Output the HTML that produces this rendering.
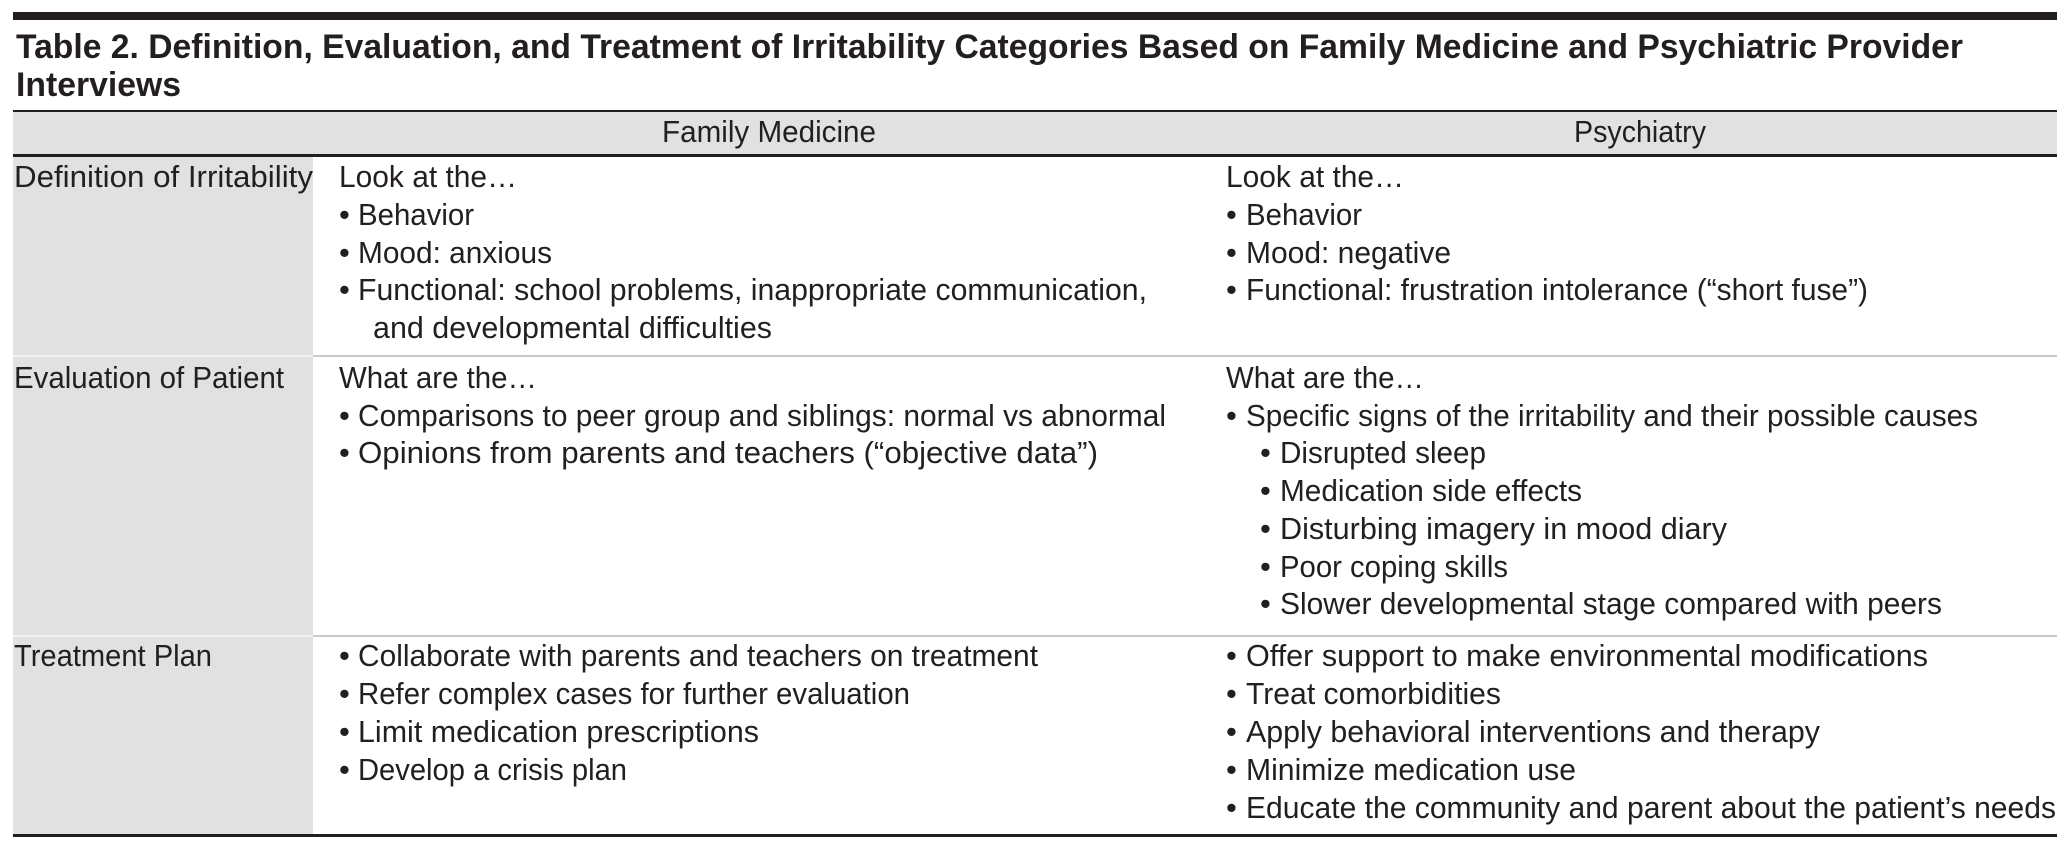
<!DOCTYPE html>
<html><head><meta charset="utf-8"><style>
html,body{margin:0;padding:0;background:#fff;}
svg{display:block;}
text{font-family:"Liberation Sans Narrow","Liberation Sans",sans-serif;fill:#231f20;font-size:31px;}
.t{font-weight:bold;font-size:34px;}
</style></head><body>
<svg width="2069" height="856" viewBox="0 0 2069 856" xmlns="http://www.w3.org/2000/svg">
<rect x="13" y="12" width="2044" height="8" fill="#231f20"/>
<text class="t" x="16" y="58" textLength="1947" lengthAdjust="spacingAndGlyphs">Table 2. Definition, Evaluation, and Treatment of Irritability Categories Based on Family Medicine and Psychiatric Provider</text>
<text class="t" x="16" y="96" textLength="165" lengthAdjust="spacingAndGlyphs">Interviews</text>
<rect x="13" y="111" width="2044" height="44" fill="#e1e1e1"/>
<rect x="13" y="157" width="300" height="678" fill="#e1e1e1"/>
<rect x="13" y="110" width="2044" height="2" fill="#231f20"/>
<rect x="13" y="154" width="2044" height="3" fill="#231f20"/>
<rect x="313" y="355" width="1744" height="2" fill="#c8c8c8"/>
<rect x="313" y="635" width="1744" height="2" fill="#c8c8c8"/>
<rect x="13" y="355" width="300" height="2" fill="#f2f2f2"/>
<rect x="13" y="635" width="300" height="2" fill="#f2f2f2"/>
<rect x="13" y="834" width="2044" height="3" fill="#231f20"/>
<text x="662" y="142" textLength="214" lengthAdjust="spacingAndGlyphs">Family Medicine</text>
<text x="1574" y="142" textLength="132" lengthAdjust="spacingAndGlyphs">Psychiatry</text>

<text x="14" y="187" textLength="299" lengthAdjust="spacingAndGlyphs">Definition of Irritability</text>
<text x="14" y="388" textLength="270" lengthAdjust="spacingAndGlyphs">Evaluation of Patient</text>
<text x="14" y="666" textLength="198" lengthAdjust="spacingAndGlyphs">Treatment Plan</text>

<text x="339" y="187" textLength="178" lengthAdjust="spacingAndGlyphs">Look at the…</text>
<text x="339" y="225">•</text><text x="358" y="225" textLength="116" lengthAdjust="spacingAndGlyphs">Behavior</text>
<text x="339" y="263">•</text><text x="358" y="263" textLength="194" lengthAdjust="spacingAndGlyphs">Mood: anxious</text>
<text x="339" y="300">•</text><text x="358" y="300" textLength="789" lengthAdjust="spacingAndGlyphs">Functional: school problems, inappropriate communication,</text>
<text x="373" y="338" textLength="399" lengthAdjust="spacingAndGlyphs">and developmental difficulties</text>
<text x="1226" y="187" textLength="178" lengthAdjust="spacingAndGlyphs">Look at the…</text>
<text x="1226" y="225">•</text><text x="1246" y="225" textLength="116" lengthAdjust="spacingAndGlyphs">Behavior</text>
<text x="1226" y="263">•</text><text x="1246" y="263" textLength="205" lengthAdjust="spacingAndGlyphs">Mood: negative</text>
<text x="1226" y="300">•</text><text x="1246" y="300" textLength="622" lengthAdjust="spacingAndGlyphs">Functional: frustration intolerance (“short fuse”)</text>

<text x="339" y="388" textLength="198" lengthAdjust="spacingAndGlyphs">What are the…</text>
<text x="339" y="426">•</text><text x="358" y="426" textLength="808" lengthAdjust="spacingAndGlyphs">Comparisons to peer group and siblings:  normal vs abnormal</text>
<text x="339" y="463">•</text><text x="358" y="463" textLength="740" lengthAdjust="spacingAndGlyphs">Opinions from parents and teachers (“objective data”)</text>
<text x="1226" y="388" textLength="198" lengthAdjust="spacingAndGlyphs">What are the…</text>
<text x="1226" y="426">•</text><text x="1246" y="426" textLength="732" lengthAdjust="spacingAndGlyphs">Specific signs of the irritability and their possible causes</text>
<text x="1260" y="463">•</text><text x="1280" y="463" textLength="206" lengthAdjust="spacingAndGlyphs">Disrupted sleep</text>
<text x="1260" y="501">•</text><text x="1280" y="501" textLength="302" lengthAdjust="spacingAndGlyphs">Medication side effects</text>
<text x="1260" y="539">•</text><text x="1280" y="539" textLength="447" lengthAdjust="spacingAndGlyphs">Disturbing imagery in mood diary</text>
<text x="1260" y="577">•</text><text x="1280" y="577" textLength="228" lengthAdjust="spacingAndGlyphs">Poor coping skills</text>
<text x="1260" y="614">•</text><text x="1280" y="614" textLength="662" lengthAdjust="spacingAndGlyphs">Slower developmental stage compared with peers</text>

<text x="339" y="666">•</text><text x="358" y="666" textLength="680" lengthAdjust="spacingAndGlyphs">Collaborate with parents and teachers on treatment</text>
<text x="339" y="704">•</text><text x="358" y="704" textLength="552" lengthAdjust="spacingAndGlyphs">Refer complex cases for further evaluation</text>
<text x="339" y="742">•</text><text x="358" y="742" textLength="401" lengthAdjust="spacingAndGlyphs">Limit medication prescriptions</text>
<text x="339" y="780">•</text><text x="358" y="780" textLength="269" lengthAdjust="spacingAndGlyphs">Develop a crisis plan</text>
<text x="1226" y="666">•</text><text x="1246" y="666" textLength="682" lengthAdjust="spacingAndGlyphs">Offer support to make environmental modifications</text>
<text x="1226" y="704">•</text><text x="1246" y="704" textLength="255" lengthAdjust="spacingAndGlyphs">Treat comorbidities</text>
<text x="1226" y="742">•</text><text x="1246" y="742" textLength="574" lengthAdjust="spacingAndGlyphs">Apply behavioral interventions and therapy</text>
<text x="1226" y="780">•</text><text x="1246" y="780" textLength="330" lengthAdjust="spacingAndGlyphs">Minimize medication use</text>
<text x="1226" y="818">•</text><text x="1246" y="818" textLength="810" lengthAdjust="spacingAndGlyphs">Educate the community and parent about the patient’s needs</text>
</svg>
</body></html>
